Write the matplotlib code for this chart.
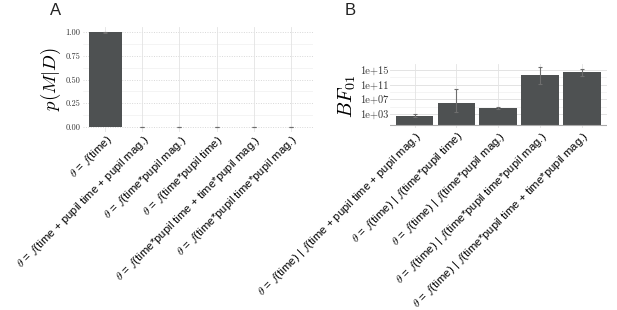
import matplotlib
matplotlib.use("Agg")
import matplotlib.pyplot as plt
import numpy as np

plt.rcParams['mathtext.fontset'] = 'cm'
plt.rcParams['font.family'] = ['Liberation Sans', 'DejaVu Sans']

# Panel A: posterior model probabilities
a_labels = [
    r"$\theta$ = $f$(time)",
    r"$\theta$ = $f$(time + pupil time + pupil mag.)",
    r"$\theta$ = $f$(time*pupil mag.)",
    r"$\theta$ = $f$(time*pupil time)",
    r"$\theta$ = $f$(time*pupil time + time*pupil mag.)",
    r"$\theta$ = $f$(time*pupil time*pupil mag.)",
]
a_values = [0.997, 0.003, 0.0, 0.0, 0.0, 0.0]
a_err = [0.003, 0.002, 0.001, 0.001, 0.001, 0.001]
a_ticks = [0.0, 0.25, 0.5, 0.75, 1.0]
a_ticklabels = ["0.00", "0.25", "0.50", "0.75", "1.00"]

# Panel B: Bayes factors against the time-only model
b_labels = [
    r"$\theta$ = $f$(time) | $f$(time + pupil time + pupil mag.)",
    r"$\theta$ = $f$(time) | $f$(time*pupil time)",
    r"$\theta$ = $f$(time) | $f$(time*pupil mag.)",
    r"$\theta$ = $f$(time) | $f$(time*pupil time*pupil mag.)",
    r"$\theta$ = $f$(time) | $f$(time*pupil time + time*pupil mag.)",
]
b_values = [4e2, 8e5, 5e4, 4e13, 2.5e14]
b_lower = [2e2, 3e3, 3e4, 1.3e11, 2.5e13]
b_upper = [1e3, 5e9, 1e5, 8e15, 1.6e15]
b_ticks = [1e3, 1e7, 1e11, 1e15]
b_ticklabels = ["1e+03", "1e+07", "1e+11", "1e+15"]

bar_color = '#4e5152'
err_color = '#6e6e6e'
grid_major = '#e3e3e3'
grid_minor = '#f0f0f0'
label_size = 8.2

W, H = 617, 310
fig = plt.figure(figsize=(W / 100, H / 100), dpi=100)

def style_axes(ax):
    for s in ax.spines.values():
        s.set_visible(False)
    ax.tick_params(length=0)
    ax.set_axisbelow(True)

# ---- panel A ----
axA = fig.add_axes([83 / W, 1 - 131.75 / H, 230 / W, 104.5 / H])
style_axes(axA)
xa = np.arange(len(a_labels))
axA.bar(xa, a_values, width=0.9, color=bar_color)
axA.errorbar(xa, a_values, yerr=a_err, fmt='none', ecolor=err_color,
             elinewidth=0.8, capsize=1.5, capthick=0.8)
axA.set_xlim(-0.6, len(a_labels) - 0.4)
axA.set_ylim(-0.05, 1.05)
for y in [0.125, 0.375, 0.625, 0.875]:
    axA.axhline(y, color=grid_minor, lw=0.5, zorder=0)
for y in a_ticks:
    axA.axhline(y, color='#d8d8d8', lw=0.7, ls=(0, (1, 1.5)), zorder=0)
for x in xa:
    axA.axvline(x, color=grid_major, lw=0.6, zorder=0)
axA.set_yticks(a_ticks)
axA.set_yticklabels(a_ticklabels, family='cmr10', fontsize=6, color='#333333')
axA.set_xticks(xa)
axA.set_xticklabels(a_labels, rotation=45, ha='right', va='top',
                    rotation_mode='anchor', fontsize=label_size)
axA.tick_params(axis='x', pad=1)
axA.tick_params(axis='y', pad=2)
axA.set_ylabel(r"$p(M|D)$", fontsize=13.5)
axA.yaxis.set_label_coords(-0.088, 0.5)

# ---- panel B ----
axB = fig.add_axes([389.6 / W, 1 - 128 / H, 217.4 / W, 64.2 / H])
style_axes(axB)
xb = np.arange(len(b_labels))
axB.set_yscale('log')
axB.bar(xb, b_values, width=0.9, color=bar_color, bottom=1)
yerr = [np.array(b_values) - np.array(b_lower), np.array(b_upper) - np.array(b_values)]
axB.errorbar(xb, b_values, yerr=yerr, fmt='none', ecolor=err_color,
             elinewidth=0.8, capsize=1.5, capthick=0.8)
axB.set_xlim(-0.6, len(b_labels) - 0.4)
axB.set_ylim(10 ** -0.8, 10 ** 16.7)
for y in [1e5, 1e9, 1e13]:
    axB.axhline(y, color=grid_minor, lw=0.5, zorder=0)
for y in b_ticks:
    axB.axhline(y, color=grid_major, lw=0.7, zorder=0)
for x in xb:
    axB.axvline(x, color=grid_major, lw=0.6, zorder=0)
axB.axhline(1, color='#aaaaaa', lw=0.8, zorder=3)
axB.set_yticks(b_ticks)
axB.set_yticklabels(b_ticklabels, family='cmr10', fontsize=7.5, color='#333333')
axB.yaxis.set_minor_locator(matplotlib.ticker.NullLocator())
axB.set_xticks(xb)
axB.set_xticklabels(b_labels, rotation=45, ha='right', va='top',
                    rotation_mode='anchor', fontsize=label_size)
axB.tick_params(axis='x', pad=1)
axB.tick_params(axis='y', pad=1)
axB.set_ylabel(r"$BF_{01}$", fontsize=14.5)
axB.yaxis.set_label_coords(-0.145, 0.5)

fig.text(50 / W, 1 - 15 / H, "A", fontsize=12, color='#222222')
fig.text(345 / W, 1 - 15 / H, "B", fontsize=12, color='#222222')

fig.savefig("out.png", dpi=100, facecolor='white')
